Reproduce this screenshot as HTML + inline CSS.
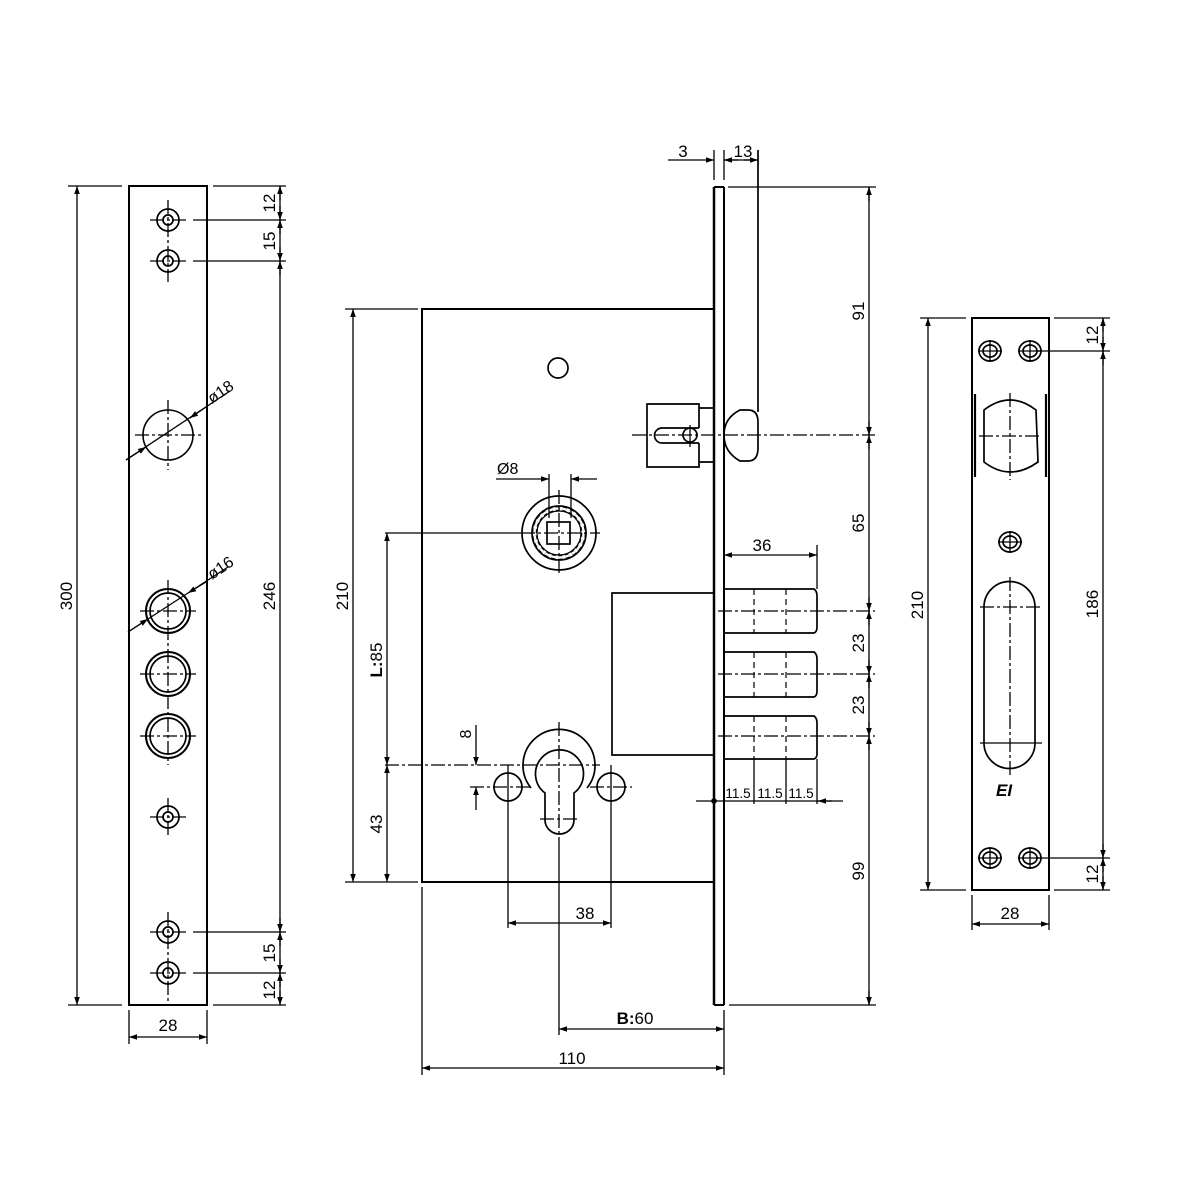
<!DOCTYPE html>
<html><head><meta charset="utf-8"><style>html,body{margin:0;padding:0;background:#fff}svg{display:block}
[stroke-width="1"]{stroke-width:1.3px}
[stroke-width="1.3"]{stroke-width:1.7px}
[stroke-width="1.5"]{stroke-width:2px}
[font-size="15"]{font-size:17px}
[font-size="14"]{font-size:16px}
[font-size="12.5"]{font-size:13.5px}
</style></head>
<body>
<svg width="1200" height="1200" viewBox="0 0 1200 1200" xmlns="http://www.w3.org/2000/svg">
<defs>
<marker id="a" viewBox="0 0 10 10" refX="10" refY="5" markerWidth="12" markerHeight="8" orient="auto-start-reverse" markerUnits="userSpaceOnUse"><path d="M0,1.5 L10,5 L0,8.5 Z" fill="#000"/></marker>
</defs>
<rect width="1200" height="1200" fill="#fff"/>
<g fill="none" stroke="#000" stroke-width="1.3" font-family="Liberation Sans, sans-serif">

<!-- LEFT PLATE -->
<rect x="129" y="186" width="78" height="819" stroke-width="1.5"/>
<g stroke-width="1.3">
<circle cx="168" cy="220" r="11"/><circle cx="168" cy="220" r="5"/>
<circle cx="168" cy="261" r="11"/><circle cx="168" cy="261" r="5"/>
<circle cx="168" cy="817" r="11"/><circle cx="168" cy="817" r="5"/>
<circle cx="168" cy="932" r="11"/><circle cx="168" cy="932" r="5"/>
<circle cx="168" cy="973" r="11"/><circle cx="168" cy="973" r="5"/>
<circle cx="168" cy="435" r="25" stroke-width="1.6"/>
<circle cx="168" cy="611" r="22" stroke-width="2"/><circle cx="168" cy="611" r="18"/>
<circle cx="168" cy="674" r="22" stroke-width="2"/><circle cx="168" cy="674" r="18"/>
<circle cx="168" cy="736" r="22" stroke-width="2"/><circle cx="168" cy="736" r="18"/>
</g>
<g stroke-width="1" stroke-dasharray="14,3,3,3">
<line x1="168" y1="200" x2="168" y2="282"/>
<line x1="150" y1="220" x2="186" y2="220"/><line x1="150" y1="261" x2="186" y2="261"/>
<line x1="168" y1="400" x2="168" y2="470"/><line x1="135" y1="435" x2="202" y2="435"/>
<line x1="168" y1="580" x2="168" y2="765"/>
<line x1="140" y1="611" x2="196" y2="611"/><line x1="140" y1="674" x2="196" y2="674"/><line x1="140" y1="736" x2="196" y2="736"/>
<line x1="168" y1="798" x2="168" y2="836"/><line x1="150" y1="817" x2="186" y2="817"/>
<line x1="168" y1="912" x2="168" y2="1005"/>
<line x1="150" y1="932" x2="186" y2="932"/><line x1="150" y1="973" x2="186" y2="973"/>
</g>
<line x1="126" y1="460" x2="230" y2="391" stroke-width="1"/>
<line x1="126" y1="460" x2="146" y2="447" marker-end="url(#a)" stroke-width="1"/>
<line x1="206" y1="407" x2="190" y2="418" marker-end="url(#a)" stroke-width="1"/>
<text transform="translate(212,404) rotate(-34)" font-size="14" fill="#000" stroke="none">ø18</text>
<line x1="128" y1="632" x2="228" y2="567" stroke-width="1"/>
<line x1="128" y1="632" x2="148" y2="619" marker-end="url(#a)" stroke-width="1"/>
<line x1="206" y1="582" x2="188" y2="593" marker-end="url(#a)" stroke-width="1"/>
<text transform="translate(212,580) rotate(-34)" font-size="14" fill="#000" stroke="none">ø16</text>
<line x1="68" y1="186" x2="122" y2="186" stroke-width="1"/>
<line x1="68" y1="1005" x2="122" y2="1005" stroke-width="1"/>
<line x1="77" y1="186" x2="77" y2="1005" marker-start="url(#a)" marker-end="url(#a)" stroke-width="1"/>
<text transform="translate(72,596) rotate(-90)" font-size="15" fill="#000" stroke="none" text-anchor="middle">300</text>
<line x1="213" y1="186" x2="286" y2="186" stroke-width="1"/>
<line x1="193" y1="220" x2="286" y2="220" stroke-width="1"/>
<line x1="193" y1="261" x2="286" y2="261" stroke-width="1"/>
<line x1="193" y1="932" x2="286" y2="932" stroke-width="1"/>
<line x1="193" y1="973" x2="286" y2="973" stroke-width="1"/>
<line x1="213" y1="1005" x2="286" y2="1005" stroke-width="1"/>
<line x1="280" y1="186" x2="280" y2="1005" stroke-width="1"/>
<g stroke-width="1">
<line x1="280" y1="200" x2="280" y2="186" marker-end="url(#a)"/>
<line x1="280" y1="206" x2="280" y2="220" marker-end="url(#a)"/>
<line x1="280" y1="234" x2="280" y2="220" marker-end="url(#a)"/>
<line x1="280" y1="247" x2="280" y2="261" marker-end="url(#a)"/>
<line x1="280" y1="275" x2="280" y2="261" marker-end="url(#a)"/>
<line x1="280" y1="918" x2="280" y2="932" marker-end="url(#a)"/>
<line x1="280" y1="946" x2="280" y2="932" marker-end="url(#a)"/>
<line x1="280" y1="959" x2="280" y2="973" marker-end="url(#a)"/>
<line x1="280" y1="987" x2="280" y2="973" marker-end="url(#a)"/>
<line x1="280" y1="991" x2="280" y2="1005" marker-end="url(#a)"/>
</g>
<g fill="#000" stroke="none" font-size="15" text-anchor="middle">
<text transform="translate(275,203) rotate(-90)">12</text>
<text transform="translate(275,241) rotate(-90)">15</text>
<text transform="translate(275,596) rotate(-90)">246</text>
<text transform="translate(275,953) rotate(-90)">15</text>
<text transform="translate(275,990) rotate(-90)">12</text>
<text x="168" y="1031">28</text>
</g>
<line x1="129" y1="1010" x2="129" y2="1044" stroke-width="1"/>
<line x1="207" y1="1010" x2="207" y2="1044" stroke-width="1"/>
<line x1="129" y1="1037" x2="207" y2="1037" marker-start="url(#a)" marker-end="url(#a)" stroke-width="1"/>

<!-- MAIN BODY -->
<rect x="422" y="309" width="292" height="573" stroke-width="1.5"/>
<line x1="714" y1="187" x2="714" y2="1005" stroke-width="2.5"/>
<line x1="724" y1="187" x2="724" y2="1005" stroke-width="1.5"/>
<line x1="714" y1="187" x2="724" y2="187" stroke-width="1.5"/>
<line x1="714" y1="1005" x2="724" y2="1005" stroke-width="1.5"/>
<line x1="758" y1="150" x2="758" y2="412" stroke-width="1.3"/>
<line x1="714" y1="150" x2="714" y2="180" stroke-width="1"/>
<line x1="724" y1="150" x2="724" y2="180" stroke-width="1"/>
<circle cx="558" cy="368" r="10" stroke-width="1.3"/>
<path d="M699,428 L699,404 L647,404 L647,467 L699,467 L699,443" stroke-width="1.3"/>
<path d="M699,408 L714,408 M699,462 L714,462" stroke-width="1.3"/>
<path d="M699,428 L662,428 A7.5,7.5 0 0 0 662,443 L699,443" stroke-width="1.3"/>
<circle cx="690" cy="435" r="7" stroke-width="1.3"/>
<path d="M740,410 L748,410 Q758,410 758,422 L758,448 Q758,461 748,461 L740,461 Q724,452 724,435 Q724,418 740,410 Z" stroke-width="1.3"/>
<line x1="632" y1="435" x2="875" y2="435" stroke-width="1" stroke-dasharray="14,3,3,3"/>
<line x1="690" y1="425" x2="690" y2="447" stroke-width="1"/>
<circle cx="559" cy="533" r="37" stroke-width="1.3"/>
<circle cx="559" cy="533" r="27" stroke-width="1.3"/>
<circle cx="559" cy="533" r="22" stroke-width="1.2"/>
<circle cx="559" cy="533" r="24.5" stroke-width="4" stroke-dasharray="4,3"/>
<circle cx="559" cy="533" r="24.5" stroke-width="2.4" stroke="#fff" stroke-dasharray="4,3"/>
<rect x="547" y="522" width="23" height="22" stroke-width="1.3"/>
<line x1="559" y1="490" x2="559" y2="576" stroke-width="1" stroke-dasharray="14,3,3,3"/>
<line x1="385" y1="533" x2="600" y2="533" stroke-width="1" stroke-dasharray="150,3,3,3,14,3,3,3,14,3,3,3"/>
<line x1="549" y1="474" x2="549" y2="518" stroke-width="1"/>
<line x1="571" y1="474" x2="571" y2="518" stroke-width="1"/>
<line x1="496" y1="479" x2="549" y2="479" marker-end="url(#a)" stroke-width="1"/>
<line x1="597" y1="479" x2="571" y2="479" marker-end="url(#a)" stroke-width="1"/>
<text x="497" y="474" font-size="14" fill="#000" stroke="none">Ø8</text>
<path d="M714,593 L612,593 L612,755 L714,755" stroke-width="1.3"/>
<g stroke-width="1.3">
<path d="M724,589 L814,589 Q817,591 817,596 L817,627 Q817,632 814,633 L724,633"/>
<path d="M724,652 L814,652 Q817,654 817,659 L817,691 Q817,696 814,697 L724,697"/>
<path d="M724,716 L814,716 Q817,718 817,723 L817,754 Q817,758 814,759 L724,759"/>
</g>
<g stroke-width="1.2" stroke-dasharray="6,4">
<line x1="754" y1="589" x2="754" y2="633"/><line x1="786" y1="589" x2="786" y2="633"/>
<line x1="754" y1="652" x2="754" y2="697"/><line x1="786" y1="652" x2="786" y2="697"/>
<line x1="754" y1="716" x2="754" y2="759"/><line x1="786" y1="716" x2="786" y2="759"/>
</g>
<g stroke-width="1" stroke-dasharray="14,3,3,3">
<line x1="718" y1="611" x2="875" y2="611"/>
<line x1="718" y1="674" x2="875" y2="674"/>
<line x1="718" y1="736" x2="875" y2="736"/>
</g>
<line x1="817" y1="545" x2="817" y2="589" stroke-width="1"/>
<line x1="724" y1="555" x2="817" y2="555" marker-start="url(#a)" marker-end="url(#a)" stroke-width="1"/>
<text x="762" y="551" font-size="15" fill="#000" stroke="none" text-anchor="middle">36</text>
<line x1="754" y1="759" x2="754" y2="804" stroke-width="1"/>
<line x1="786" y1="759" x2="786" y2="804" stroke-width="1"/>
<line x1="817" y1="759" x2="817" y2="804" stroke-width="1"/>
<line x1="696" y1="801" x2="843" y2="801" stroke-width="1"/>
<line x1="832" y1="801" x2="818" y2="801" marker-end="url(#a)" stroke-width="1"/>
<circle cx="714" cy="801" r="2" fill="#000"/>
<g fill="#000" stroke="none" font-size="12.5" text-anchor="middle">
<text x="738" y="798">11.5</text><text x="770" y="798">11.5</text><text x="801" y="798">11.5</text>
</g>
<path d="M545,793 A24,24 0 1 1 574,793 L574,820 A14.5,14 0 0 1 545,820 Z" stroke-width="1.3"/>
<path d="M531,788 A36,36 0 1 1 587,788" stroke-width="1.3"/>
<circle cx="508" cy="787" r="14" stroke-width="1.3"/>
<circle cx="611" cy="787" r="14" stroke-width="1.3"/>
<g stroke-width="1" stroke-dasharray="14,3,3,3">
<line x1="559" y1="722" x2="559" y2="845"/>
<line x1="385" y1="765" x2="600" y2="765"/>
<line x1="470" y1="787" x2="530" y2="787"/>
<line x1="590" y1="787" x2="632" y2="787"/>
<line x1="540" y1="819" x2="580" y2="819"/>
</g>
<line x1="508" y1="765" x2="508" y2="928" stroke-width="1"/>
<line x1="611" y1="765" x2="611" y2="928" stroke-width="1"/>
<line x1="559" y1="845" x2="559" y2="1035" stroke-width="1"/>
<line x1="476" y1="725" x2="476" y2="765" marker-end="url(#a)" stroke-width="1"/>
<line x1="476" y1="810" x2="476" y2="787" marker-end="url(#a)" stroke-width="1"/>
<text transform="translate(471,734) rotate(-90)" font-size="14" fill="#000" stroke="none" text-anchor="middle">8</text>
<line x1="508" y1="923" x2="611" y2="923" marker-start="url(#a)" marker-end="url(#a)" stroke-width="1"/>
<text x="585" y="919" font-size="15" fill="#000" stroke="none" text-anchor="middle">38</text>
<line x1="559" y1="1029" x2="724" y2="1029" marker-start="url(#a)" marker-end="url(#a)" stroke-width="1"/>
<text x="635" y="1024" font-size="15" fill="#000" stroke="none" text-anchor="middle"><tspan font-weight="bold">B:</tspan>60</text>
<line x1="422" y1="887" x2="422" y2="1075" stroke-width="1"/>
<line x1="724" y1="1010" x2="724" y2="1075" stroke-width="1"/>
<line x1="422" y1="1068" x2="724" y2="1068" marker-start="url(#a)" marker-end="url(#a)" stroke-width="1"/>
<text x="572" y="1064" font-size="15" fill="#000" stroke="none" text-anchor="middle">110</text>
<line x1="345" y1="309" x2="418" y2="309" stroke-width="1"/>
<line x1="345" y1="882" x2="418" y2="882" stroke-width="1"/>
<line x1="353" y1="309" x2="353" y2="882" marker-start="url(#a)" marker-end="url(#a)" stroke-width="1"/>
<text transform="translate(348,596) rotate(-90)" font-size="15" fill="#000" stroke="none" text-anchor="middle">210</text>
<line x1="387" y1="533" x2="387" y2="765" marker-start="url(#a)" marker-end="url(#a)" stroke-width="1"/>
<line x1="387" y1="765" x2="387" y2="882" marker-start="url(#a)" marker-end="url(#a)" stroke-width="1"/>
<text transform="translate(382,660) rotate(-90)" font-size="15" fill="#000" stroke="none" text-anchor="middle"><tspan font-weight="bold">L:</tspan>85</text>
<text transform="translate(382,824) rotate(-90)" font-size="15" fill="#000" stroke="none" text-anchor="middle">43</text>
<line x1="728" y1="187" x2="876" y2="187" stroke-width="1"/>
<line x1="729" y1="1005" x2="876" y2="1005" stroke-width="1"/>
<line x1="869" y1="187" x2="869" y2="1005" stroke-width="1"/>
<g stroke-width="1">
<line x1="869" y1="201" x2="869" y2="187" marker-end="url(#a)"/>
<line x1="869" y1="421" x2="869" y2="435" marker-end="url(#a)"/>
<line x1="869" y1="449" x2="869" y2="435" marker-end="url(#a)"/>
<line x1="869" y1="597" x2="869" y2="611" marker-end="url(#a)"/>
<line x1="869" y1="625" x2="869" y2="611" marker-end="url(#a)"/>
<line x1="869" y1="660" x2="869" y2="674" marker-end="url(#a)"/>
<line x1="869" y1="688" x2="869" y2="674" marker-end="url(#a)"/>
<line x1="869" y1="722" x2="869" y2="736" marker-end="url(#a)"/>
<line x1="869" y1="750" x2="869" y2="736" marker-end="url(#a)"/>
<line x1="869" y1="991" x2="869" y2="1005" marker-end="url(#a)"/>
</g>
<g fill="#000" stroke="none" font-size="15" text-anchor="middle">
<text transform="translate(864,311) rotate(-90)">91</text>
<text transform="translate(864,523) rotate(-90)">65</text>
<text transform="translate(864,643) rotate(-90)">23</text>
<text transform="translate(864,705) rotate(-90)">23</text>
<text transform="translate(864,871) rotate(-90)">99</text>
<text x="683" y="157">3</text>
<text x="743" y="157">13</text>
</g>
<line x1="668" y1="160" x2="714" y2="160" marker-end="url(#a)" stroke-width="1"/>
<line x1="724" y1="160" x2="758" y2="160" stroke-width="1"/>
<line x1="738" y1="160" x2="724" y2="160" marker-end="url(#a)" stroke-width="1"/>
<line x1="744" y1="160" x2="758" y2="160" marker-end="url(#a)" stroke-width="1"/>

<!-- RIGHT STRIKE PLATE -->
<rect x="972" y="318" width="77" height="572" stroke-width="1.5"/>
<g stroke-width="1.3">
<ellipse cx="990" cy="351" rx="11" ry="10"/><ellipse cx="990" cy="351" rx="7" ry="6"/>
<ellipse cx="1030" cy="351" rx="11" ry="10"/><ellipse cx="1030" cy="351" rx="7" ry="6"/>
<ellipse cx="990" cy="858" rx="11" ry="10"/><ellipse cx="990" cy="858" rx="7" ry="6"/>
<ellipse cx="1030" cy="858" rx="11" ry="10"/><ellipse cx="1030" cy="858" rx="7" ry="6"/>
<ellipse cx="1010" cy="542" rx="11" ry="10"/><ellipse cx="1010" cy="542" rx="7" ry="6"/>
</g>
<g stroke-width="1">
<path d="M978,351 L1002,351 M990,340 L990,362 M1018,351 L1042,351 M1030,340 L1030,362"/>
<path d="M978,858 L1002,858 M990,847 L990,869 M1018,858 L1042,858 M1030,847 L1030,869"/>
<path d="M998,542 L1022,542 M1010,531 L1010,553"/>
<line x1="1036" y1="351" x2="1110" y2="351"/>
<line x1="1036" y1="858" x2="1110" y2="858"/>
</g>
<path d="M984,410 Q1010,390 1036,410 L1038,462 Q1010,482 984,462 Z" stroke-width="1.3"/>
<line x1="975" y1="394" x2="975" y2="477" stroke-width="2.2"/>
<line x1="1046" y1="394" x2="1046" y2="477" stroke-width="2.2"/>
<g stroke-width="1" stroke-dasharray="14,3,3,3">
<line x1="1010" y1="393" x2="1010" y2="480"/>
<line x1="979" y1="436" x2="1042" y2="436"/>
</g>
<path d="M984,607 A25.5,25.5 0 0 1 1035,607 L1035,743 A25.5,25.5 0 0 1 984,743 Z" stroke-width="1.3"/>
<g stroke-width="1" stroke-dasharray="14,3,3,3">
<line x1="1010" y1="577" x2="1010" y2="775"/>
<line x1="980" y1="607" x2="1042" y2="607"/>
</g>
<line x1="980" y1="743" x2="1042" y2="743" stroke-width="1"/>
<text x="996" y="796" font-size="15" font-weight="bold" font-style="italic" fill="#000" stroke="none">EI</text>
<line x1="920" y1="318" x2="966" y2="318" stroke-width="1"/>
<line x1="920" y1="890" x2="966" y2="890" stroke-width="1"/>
<line x1="928" y1="318" x2="928" y2="890" marker-start="url(#a)" marker-end="url(#a)" stroke-width="1"/>
<text transform="translate(923,605) rotate(-90)" font-size="15" fill="#000" stroke="none" text-anchor="middle">210</text>
<line x1="1054" y1="318" x2="1110" y2="318" stroke-width="1"/>
<line x1="1054" y1="890" x2="1110" y2="890" stroke-width="1"/>
<line x1="1103" y1="318" x2="1103" y2="890" stroke-width="1"/>
<g stroke-width="1">
<line x1="1103" y1="332" x2="1103" y2="318" marker-end="url(#a)"/>
<line x1="1103" y1="337" x2="1103" y2="351" marker-end="url(#a)"/>
<line x1="1103" y1="365" x2="1103" y2="351" marker-end="url(#a)"/>
<line x1="1103" y1="844" x2="1103" y2="858" marker-end="url(#a)"/>
<line x1="1103" y1="872" x2="1103" y2="858" marker-end="url(#a)"/>
<line x1="1103" y1="876" x2="1103" y2="890" marker-end="url(#a)"/>
</g>
<g fill="#000" stroke="none" font-size="15" text-anchor="middle">
<text transform="translate(1098,335) rotate(-90)">12</text>
<text transform="translate(1098,604) rotate(-90)">186</text>
<text transform="translate(1098,874) rotate(-90)">12</text>
<text x="1010" y="919">28</text>
</g>
<line x1="972" y1="895" x2="972" y2="930" stroke-width="1"/>
<line x1="1049" y1="895" x2="1049" y2="930" stroke-width="1"/>
<line x1="972" y1="924" x2="1049" y2="924" marker-start="url(#a)" marker-end="url(#a)" stroke-width="1"/>
</g>
</svg>
</body></html>
